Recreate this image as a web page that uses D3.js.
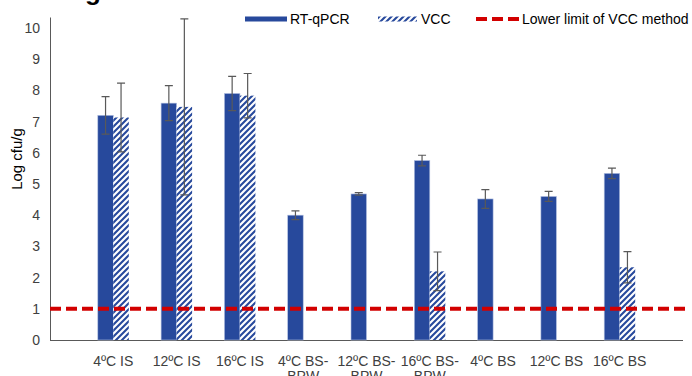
<!DOCTYPE html>
<html>
<head>
<meta charset="utf-8">
<script src="https://cdn.jsdelivr.net/npm/d3@7"></script>
<style>
  body { margin: 0; background: #fff; }
  svg { display: block; font-family: "Liberation Sans", Arial, sans-serif; }
</style>
</head>
<body>
<svg id="chart"></svg>
<script>
const categories = ["4ºC IS", "12ºC IS", "16ºC IS", "4ºC BS-BPW", "12ºC BS-BPW", "16ºC BS-BPW", "4ºC BS", "12ºC BS", "16ºC BS"];
const rtqpcr = [7.2, 7.59, 7.9, 4.0, 4.68, 5.75, 4.52, 4.6, 5.34];
const rtqpcrErr = [0.6, 0.56, 0.55, 0.14, 0.04, 0.17, 0.3, 0.16, 0.17];
const vcc = [7.13, 7.47, 7.83, null, null, 2.2, null, null, 2.33];
const vccErr = [1.1, 2.82, 0.71, null, null, 0.62, null, null, 0.5];
const lowerLimit = 1;
const yTicks = [0, 1, 2, 3, 4, 5, 6, 7, 8, 9, 10];

const width = 692, height = 376;
const svg = d3.select("#chart").attr("width", width).attr("height", height);

const blue = "#27499c";
const red = "#d20000";
const grey = "#595959";

// hatch for the VCC bars
const defs = svg.append("defs");
const pat = defs.append("pattern")
    .attr("id", "hatch")
    .attr("patternUnits", "userSpaceOnUse")
    .attr("width", 6).attr("height", 6);
pat.append("rect").attr("width", 6).attr("height", 6).attr("fill", "#fff");
pat.append("path")
    .attr("d", "M-1,1 l2,-2 M0,6 l6,-6 M5,7 l2,-2")
    .attr("stroke", blue)
    .attr("stroke-width", 2.1);

const axisLeft = 50, axisRight = 683;
const step = (axisRight - axisLeft) / (categories.length + 1);

const x = d3.scaleBand()
    .domain(categories)
    .range([axisLeft + step / 2, axisRight - step / 2])
    .padding(0);

const y = d3.scaleLinear().domain([0, 10.35]).range([340, 17]);
const barW = 15.5;

// title (cut off at the top of the picture)
svg.append("text")
    .attr("x", 62).attr("y", 0)
    .attr("font-size", 26).attr("font-weight", "bold")
    .attr("fill", "#000")
    .text("Figure 3");

// y axis
const yAxis = svg.append("g")
    .attr("transform", `translate(${axisLeft},0)`)
    .call(d3.axisLeft(y).tickValues(yTicks).tickSize(0).tickPadding(10));
yAxis.select(".domain").attr("stroke", grey).attr("stroke-width", 1);
yAxis.selectAll("text").attr("font-size", 14).attr("fill", "#404040")
    .attr("font-family", "Liberation Sans, Arial, sans-serif");

// x axis
const xAxis = svg.append("g")
    .attr("transform", `translate(0,${y(0)})`)
    .call(d3.axisBottom(x).tickSize(0).tickFormat(""));
xAxis.select(".domain").attr("d", `M${axisLeft},0.5H${axisRight}`)
    .attr("stroke", grey).attr("stroke-width", 1);

// x labels, wrapped like the original
categories.forEach(c => {
    const parts = c.includes("BS-") ? [c.replace("BPW", ""), "BPW"] : [c];
    const t = svg.append("text")
        .attr("x", x(c) + x.bandwidth() / 2)
        .attr("y", 366)
        .attr("text-anchor", "middle")
        .attr("font-size", 14)
        .attr("fill", "#404040");
    parts.forEach((p, i) => {
        t.append("tspan")
            .attr("x", x(c) + x.bandwidth() / 2)
            .attr("dy", i === 0 ? 0 : 15)
            .text(p);
    });
});

// RT-qPCR bars
svg.selectAll(".rt")
    .data(categories)
    .join("rect")
    .attr("class", "rt")
    .attr("x", (d, i) => x(d) + x.bandwidth() / 2 - barW)
    .attr("y", (d, i) => y(rtqpcr[i]))
    .attr("width", barW)
    .attr("height", (d, i) => y(0) - y(rtqpcr[i]))
    .attr("fill", blue)
    .attr("stroke", "#b4c1e2")
    .attr("stroke-width", 0.6);

// VCC bars
const vccIdx = categories.map((c, i) => i).filter(i => vcc[i] != null);
svg.selectAll(".vcc")
    .data(vccIdx)
    .join("rect")
    .attr("class", "vcc")
    .attr("x", i => x(categories[i]) + x.bandwidth() / 2)
    .attr("y", i => y(vcc[i]))
    .attr("width", barW)
    .attr("height", i => y(0) - y(vcc[i]))
    .attr("fill", "url(#hatch)");

// error bars
function errBars(vals, errs, offset, cls) {
    const idx = categories.map((c, i) => i).filter(i => vals[i] != null);
    const g = svg.selectAll("." + cls)
        .data(idx)
        .join("g")
        .attr("class", cls)
        .attr("stroke", grey)
        .attr("stroke-width", 1.2)
        .attr("fill", "none");
    g.append("path")
        .attr("d", i => {
            const cx = x(categories[i]) + x.bandwidth() / 2 + offset;
            const t = y(vals[i] + errs[i]), b = y(vals[i] - errs[i]);
            return `M${cx},${t}V${b}M${cx - 4},${t}H${cx + 4}M${cx - 4},${b}H${cx + 4}`;
        });
}
errBars(rtqpcr, rtqpcrErr, -barW / 2, "rt-err");
errBars(vcc, vccErr, barW / 2, "vcc-err");

// lower limit line
svg.append("line")
    .attr("x1", axisLeft).attr("x2", axisRight + 2)
    .attr("y1", y(lowerLimit)).attr("y2", y(lowerLimit))
    .attr("stroke", red)
    .attr("stroke-width", 4)
    .attr("stroke-dasharray", "11,5");

// legend
const leg = svg.append("g").attr("font-size", 14).attr("fill", "#000");
leg.append("rect").attr("x", 245).attr("y", 16.5).attr("width", 42).attr("height", 5).attr("fill", blue);
leg.append("text").attr("x", 290).attr("y", 24).text("RT-qPCR");
leg.append("rect").attr("x", 378).attr("y", 16.5).attr("width", 39).attr("height", 5).attr("fill", "url(#hatch)");
leg.append("text").attr("x", 421).attr("y", 24).text("VCC");
leg.append("line").attr("x1", 476).attr("x2", 520).attr("y1", 19).attr("y2", 19)
    .attr("stroke", red).attr("stroke-width", 4).attr("stroke-dasharray", "11,5");
leg.append("text").attr("x", 522).attr("y", 24).text("Lower limit of VCC method");

// y title
svg.append("text")
    .attr("transform", "translate(22,159) rotate(-90)")
    .attr("text-anchor", "middle")
    .attr("font-size", 15)
    .attr("fill", "#000")
    .text("Log cfu/g");
</script>
</body>
</html>
